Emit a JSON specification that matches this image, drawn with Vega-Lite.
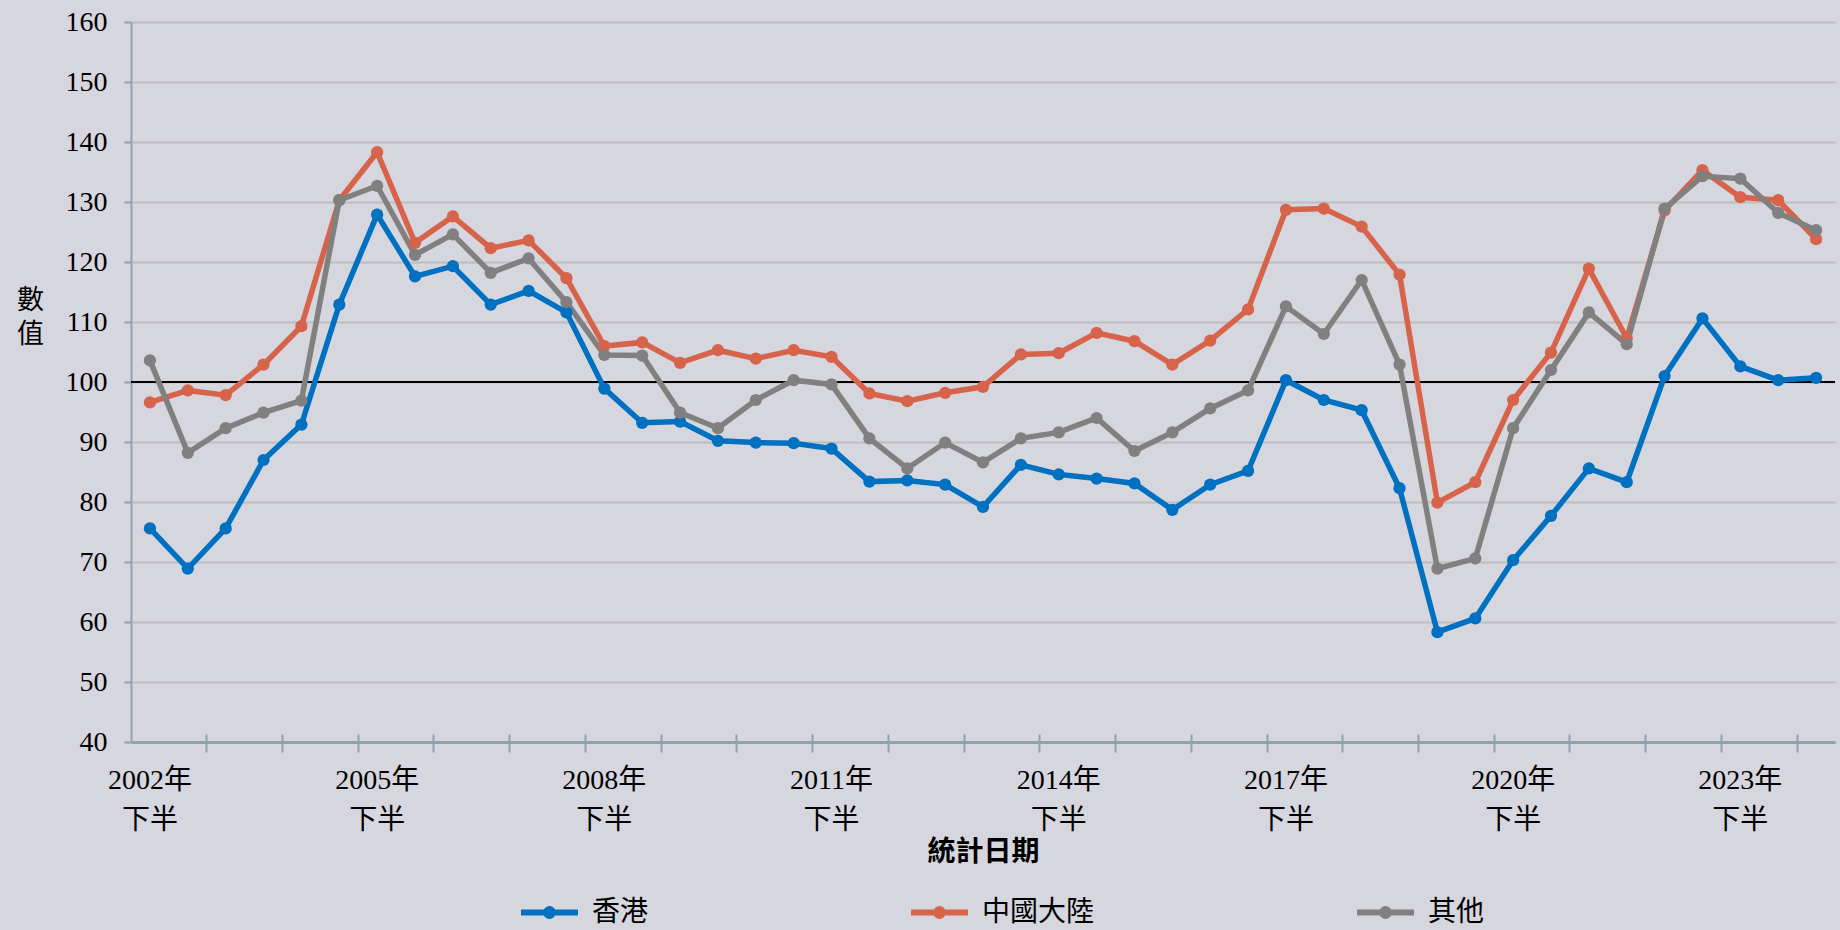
{
"$schema": "https://vega.github.io/schema/vega-lite/v6.json",
"width": 1704, "height": 720,
"autosize": {"type": "none"},
"padding": {"left": 131, "top": 22, "right": 5, "bottom": 188},
"background": "#D5D6DE",
"view": {"stroke": null},
"config": {"font": "Liberation Serif, Noto Sans CJK TC"},
"data": {"values": [
{"期":"2002年下半","地區":"香港","數值":75.6},{"期":"2003年上半","地區":"香港","數值":68.9},{"期":"2003年下半","地區":"香港","數值":75.6},{"期":"2004年上半","地區":"香港","數值":87.0},{"期":"2004年下半","地區":"香港","數值":92.9},{"期":"2005年上半","地區":"香港","數值":112.9},{"期":"2005年下半","地區":"香港","數值":127.9},{"期":"2006年上半","地區":"香港","數值":117.6},{"期":"2006年下半","地區":"香港","數值":119.3},{"期":"2007年上半","地區":"香港","數值":112.9},{"期":"2007年下半","地區":"香港","數值":115.2},{"期":"2008年上半","地區":"香港","數值":111.6},{"期":"2008年下半","地區":"香港","數值":98.9},{"期":"2009年上半","地區":"香港","數值":93.2},{"期":"2009年下半","地區":"香港","數值":93.4},{"期":"2010年上半","地區":"香港","數值":90.2},{"期":"2010年下半","地區":"香港","數值":89.9},{"期":"2011年上半","地區":"香港","數值":89.8},{"期":"2011年下半","地區":"香港","數值":88.9},{"期":"2012年上半","地區":"香港","數值":83.4},{"期":"2012年下半","地區":"香港","數值":83.6},{"期":"2013年上半","地區":"香港","數值":82.9},{"期":"2013年下半","地區":"香港","數值":79.2},{"期":"2014年上半","地區":"香港","數值":86.2},{"期":"2014年下半","地區":"香港","數值":84.6},{"期":"2015年上半","地區":"香港","數值":83.9},{"期":"2015年下半","地區":"香港","數值":83.1},{"期":"2016年上半","地區":"香港","數值":78.7},{"期":"2016年下半","地區":"香港","數值":82.9},{"期":"2017年上半","地區":"香港","數值":85.2},{"期":"2017年下半","地區":"香港","數值":100.3},{"期":"2018年上半","地區":"香港","數值":97.0},{"期":"2018年下半","地區":"香港","數值":95.3},{"期":"2019年上半","地區":"香港","數值":82.3},{"期":"2019年下半","地區":"香港","數值":58.3},{"期":"2020年上半","地區":"香港","數值":60.6},{"期":"2020年下半","地區":"香港","數值":70.3},{"期":"2021年上半","地區":"香港","數值":77.7},{"期":"2021年下半","地區":"香港","數值":85.6},{"期":"2022年上半","地區":"香港","數值":83.3},{"期":"2022年下半","地區":"香港","數值":101.0},{"期":"2023年上半","地區":"香港","數值":110.6},{"期":"2023年下半","地區":"香港","數值":102.6},{"期":"2024年上半","地區":"香港","數值":100.3},{"期":"2024年下半","地區":"香港","數值":100.7},
{"期":"2002年下半","地區":"中國大陸","數值":96.6},{"期":"2003年上半","地區":"中國大陸","數值":98.6},{"期":"2003年下半","地區":"中國大陸","數值":97.8},{"期":"2004年上半","地區":"中國大陸","數值":102.9},{"期":"2004年下半","地區":"中國大陸","數值":109.3},{"期":"2005年上半","地區":"中國大陸","數值":130.3},{"期":"2005年下半","地區":"中國大陸","數值":138.3},{"期":"2006年上半","地區":"中國大陸","數值":123.2},{"期":"2006年下半","地區":"中國大陸","數值":127.6},{"期":"2007年上半","地區":"中國大陸","數值":122.3},{"期":"2007年下半","地區":"中國大陸","數值":123.6},{"期":"2008年上半","地區":"中國大陸","數值":117.3},{"期":"2008年下半","地區":"中國大陸","數值":106.0},{"期":"2009年上半","地區":"中國大陸","數值":106.6},{"期":"2009年下半","地區":"中國大陸","數值":103.2},{"期":"2010年上半","地區":"中國大陸","數值":105.3},{"期":"2010年下半","地區":"中國大陸","數值":103.9},{"期":"2011年上半","地區":"中國大陸","數值":105.3},{"期":"2011年下半","地區":"中國大陸","數值":104.2},{"期":"2012年上半","地區":"中國大陸","數值":98.1},{"期":"2012年下半","地區":"中國大陸","數值":96.8},{"期":"2013年上半","地區":"中國大陸","數值":98.2},{"期":"2013年下半","地區":"中國大陸","數值":99.2},{"期":"2014年上半","地區":"中國大陸","數值":104.6},{"期":"2014年下半","地區":"中國大陸","數值":104.8},{"期":"2015年上半","地區":"中國大陸","數值":108.2},{"期":"2015年下半","地區":"中國大陸","數值":106.8},{"期":"2016年上半","地區":"中國大陸","數值":102.9},{"期":"2016年下半","地區":"中國大陸","數值":106.9},{"期":"2017年上半","地區":"中國大陸","數值":112.1},{"期":"2017年下半","地區":"中國大陸","數值":128.7},{"期":"2018年上半","地區":"中國大陸","數值":128.9},{"期":"2018年下半","地區":"中國大陸","數值":125.9},{"期":"2019年上半","地區":"中國大陸","數值":117.9},{"期":"2019年下半","地區":"中國大陸","數值":79.9},{"期":"2020年上半","地區":"中國大陸","數值":83.3},{"期":"2020年下半","地區":"中國大陸","數值":97.0},{"期":"2021年上半","地區":"中國大陸","數值":104.9},{"期":"2021年下半","地區":"中國大陸","數值":118.9},{"期":"2022年上半","地區":"中國大陸","數值":107.3},{"期":"2022年下半","地區":"中國大陸","數值":128.6},{"期":"2023年上半","地區":"中國大陸","數值":135.3},{"期":"2023年下半","地區":"中國大陸","數值":130.8},{"期":"2024年上半","地區":"中國大陸","數值":130.3},{"期":"2024年下半","地區":"中國大陸","數值":123.8},
{"期":"2002年下半","地區":"其他","數值":103.6},{"期":"2003年上半","地區":"其他","數值":88.2},{"期":"2003年下半","地區":"其他","數值":92.3},{"期":"2004年上半","地區":"其他","數值":94.9},{"期":"2004年下半","地區":"其他","數值":96.9},{"期":"2005年上半","地區":"其他","數值":130.3},{"期":"2005年下半","地區":"其他","數值":132.7},{"期":"2006年上半","地區":"其他","數值":121.2},{"期":"2006年下半","地區":"其他","數值":124.6},{"期":"2007年上半","地區":"其他","數值":118.2},{"期":"2007年下半","地區":"其他","數值":120.6},{"期":"2008年上半","地區":"其他","數值":113.3},{"期":"2008年下半","地區":"其他","數值":104.5},{"期":"2009年上半","地區":"其他","數值":104.4},{"期":"2009年下半","地區":"其他","數值":94.9},{"期":"2010年上半","地區":"其他","數值":92.3},{"期":"2010年下半","地區":"其他","數值":97.0},{"期":"2011年上半","地區":"其他","數值":100.3},{"期":"2011年下半","地區":"其他","數值":99.6},{"期":"2012年上半","地區":"其他","數值":90.6},{"期":"2012年下半","地區":"其他","數值":85.6},{"期":"2013年上半","地區":"其他","數值":89.9},{"期":"2013年下半","地區":"其他","數值":86.6},{"期":"2014年上半","地區":"其他","數值":90.6},{"期":"2014年下半","地區":"其他","數值":91.6},{"期":"2015年上半","地區":"其他","數值":94.0},{"期":"2015年下半","地區":"其他","數值":88.5},{"期":"2016年上半","地區":"其他","數值":91.6},{"期":"2016年下半","地區":"其他","數值":95.6},{"期":"2017年上半","地區":"其他","數值":98.6},{"期":"2017年下半","地區":"其他","數值":112.6},{"期":"2018年上半","地區":"其他","數值":108.0},{"期":"2018年下半","地區":"其他","數值":117.0},{"期":"2019年上半","地區":"其他","數值":102.9},{"期":"2019年下半","地區":"其他","數值":68.9},{"期":"2020年上半","地區":"其他","數值":70.6},{"期":"2020年下半","地區":"其他","數值":92.3},{"期":"2021年上半","地區":"其他","數值":102.0},{"期":"2021年下半","地區":"其他","數值":111.6},{"期":"2022年上半","地區":"其他","數值":106.3},{"期":"2022年下半","地區":"其他","數值":128.9},{"期":"2023年上半","地區":"其他","數值":134.3},{"期":"2023年下半","地區":"其他","數值":133.9},{"期":"2024年上半","地區":"其他","數值":128.2},{"期":"2024年下半","地區":"其他","數值":125.3}
]},
"layer": [
{
"data": {"values": [{"v": 100}]},
"mark": {"type": "rule", "color": "#000000", "strokeWidth": 2},
"encoding": {"y": {"field": "v", "type": "quantitative"}}
},
{
"mark": {"type": "line", "strokeWidth": 5.5, "point": {"filled": true, "size": 150, "opacity": 1}},
"encoding": {
"x": {"field": "期", "type": "ordinal", "sort": null,
"scale": {"type": "band", "paddingInner": 0, "paddingOuter": 0},
"axis": {"orient": "bottom", "values": ["2002年下半","2005年下半","2008年下半","2011年下半","2014年下半","2017年下半","2020年下半","2023年下半"],
"ticks": false, "tickSize": 0, "grid": false, "domain": true, "domainColor": "#8FA3AE", "domainWidth": 3,
"labelExpr": "[substring(datum.label,0,5), substring(datum.label,5)]",
"labelAngle": 0, "labelFont": "Liberation Serif, Noto Sans CJK TC", "labelFontSize": 28, "labelLineHeight": 40, "labelColor": "#000000", "labelPadding": 24,
"title": "統計日期", "titleFont": "Noto Sans CJK TC", "titleFontSize": 28, "titleFontWeight": "bold", "titleColor": "#000000",
"titleX": 852, "titleY": 110, "titleAlign": "center", "titleBaseline": "middle"}},
"y": {"field": "數值", "type": "quantitative",
"scale": {"domain": [40, 160], "nice": false, "zero": false},
"axis": {"values": [40,50,60,70,80,90,100,110,120,130,140,150,160],
"grid": true, "gridColor": "#BEBEBE", "gridWidth": 2,
"domainColor": "#8FA3AE", "domainWidth": 2, "tickColor": "#8FA3AE", "tickSize": 7, "tickWidth": 2,
"labelFont": "Liberation Serif", "labelFontSize": 28, "labelColor": "#000000", "labelPadding": 17,
"title": ["數", "值"], "titleAngle": 0, "titleX": -101, "titleY": 278, "titleAlign": "center", "titleBaseline": "middle",
"titleFont": "Noto Sans CJK TC", "titleFontSize": 27, "titleFontWeight": "normal", "titleLineHeight": 34, "titleColor": "#000000"}},
"color": {"field": "地區", "type": "nominal",
"scale": {"domain": ["香港", "中國大陸", "其他"], "range": ["#0070C0", "#D6634A", "#808080"]},
"legend": {"orient": "none", "legendX": 387, "legendY": 859, "direction": "horizontal", "title": null,
"columnPadding": 250, "symbolType": "M-1,0L1,0M0.12,0A0.12,0.12,0,1,1,-0.12,0A0.12,0.12,0,1,1,0.12,0",
"symbolSize": 3249, "symbolStrokeWidth": 6, "labelFont": "Noto Sans CJK TC", "labelFontSize": 28,
"labelOffset": 11, "labelColor": "#000000", "labelLimit": 0}}
}
},
{
"mark": {"type": "point", "opacity": 0},
"encoding": {
"x": {"field": "期", "type": "ordinal", "sort": null,
"axis": {"orient": "bottom", "values": ["2003年上半","2004年上半","2005年上半","2006年上半","2007年上半","2008年上半","2009年上半","2010年上半","2011年上半","2012年上半","2013年上半","2014年上半","2015年上半","2016年上半","2017年上半","2018年上半","2019年上半","2020年上半","2021年上半","2022年上半","2023年上半","2024年上半"],
"bandPosition": 1, "ticks": true, "tickSize": 18, "offset": -8, "tickColor": "#8FA3AE", "tickWidth": 2,
"labels": false, "domain": false, "grid": false, "title": null}}
}
}
],
"resolve": {"axis": {"x": "independent"}}
}
